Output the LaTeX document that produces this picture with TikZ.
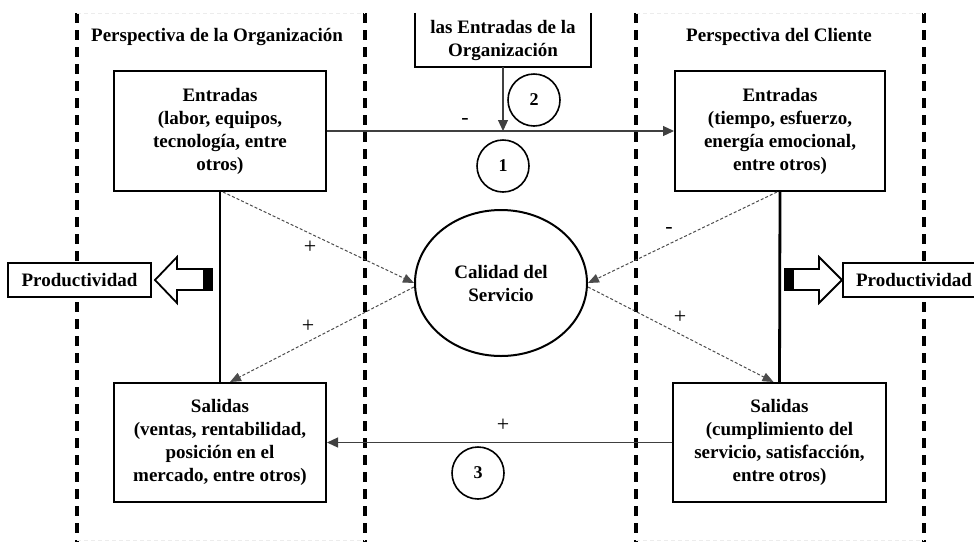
\documentclass[tikz,border=0pt]{standalone}
\usepackage{fontspec}
\setmainfont{Liberation Serif}
\usetikzlibrary{arrows.meta,shapes.geometric,calc}
\begin{document}
\begin{tikzpicture}[x=1pt,y=-1pt,
  box/.style={draw,line width=2pt,fill=white,align=center,font=\fontsize{19}{23}\selectfont\bfseries,inner sep=0pt},
  divline/.style={line width=3.5pt,dash pattern=on 10pt off 7pt},
  faint/.style={draw=gray!15,line width=0.8pt,dash pattern=on 4pt off 3pt},
  flow/.style={line width=1.2pt,draw=black!75,-{Triangle[length=11pt,width=10pt]}},
  infl/.style={line width=1pt,draw=black!70,dash pattern=on 3pt off 2pt,-{Triangle[length=11pt,width=9pt]}},
  num/.style={circle,draw,line width=1.6pt,minimum size=52pt,inner sep=0pt,font=\fontsize{18}{20}\selectfont\bfseries},
  sign/.style={font=\fontsize{22}{24}\selectfont,inner sep=0pt},
  title/.style={font=\fontsize{19}{23}\selectfont\bfseries,inner sep=0pt},
  prod/.style={draw,line width=2pt,fill=white,minimum width=143pt,minimum height=34pt,inner sep=0pt,font=\fontsize{19}{23}\selectfont\bfseries},
  hollow/.style={draw,line width=1.8pt,fill=white,line join=miter}
]
\useasboundingbox (0,0) rectangle (974,542);

% perspective dividers
\foreach \x in {77,365,636,924} \draw[divline] (\x,13) -- (\x,542);
\draw[faint] (77,13) -- (365,13);
\draw[faint] (636,13) -- (924,13);
\draw[faint] (77,540) -- (365,540);
\draw[faint] (636,540) -- (924,540);

% titles
\node[title] (tL) at (217,37) {Perspectiva de la Organización};
\node[title] (tR) at (779,37) {Perspectiva del Cliente};

% boxes
\node[box,minimum width=212pt,minimum height=120pt] (eL) at (220,131) {Entradas\\(labor, equipos,\\tecnología, entre\\otros)};
\node[box,minimum width=210pt,minimum height=120pt] (eR) at (780,131) {Entradas\\(tiempo, esfuerzo,\\energía emocional,\\entre otros)};
\node[box,minimum width=212pt,minimum height=119pt] (sL) at (220,442.5) {Salidas\\(ventas, rentabilidad,\\posición en el\\mercado, entre otros)};
\node[box,minimum width=213pt,minimum height=119pt] (sR) at (779.5,442.5) {Salidas\\(cumplimiento del\\servicio, satisfacción,\\entre otros)};

\node[ellipse,draw,line width=2pt,fill=white,minimum width=172pt,minimum height=146pt,inner sep=0pt,align=center,font=\fontsize{19}{23}\selectfont\bfseries] (cal) at (501,283) {Calidad del\\Servicio};

% top (cut) box
\node[inner sep=0pt,minimum width=176pt,minimum height=54pt,align=center,font=\fontsize{19}{23}\selectfont\bfseries] (top) at (503,40) {las Entradas de la\\Organización};
\draw[line width=1.8pt] (top.north west) -- (top.south west) -- (top.south east) -- (top.north east);

% thick verticals
\draw[line width=2.8pt] (eL.south) -- (sL.north);
\draw[line width=2.8pt] (eR.south) -- (sR.north);

% flows
\draw[flow] (eL.east) -- (eR.west);
\draw[flow] (sR.west) -- (sL.east);
\draw[flow] (top.south) -- (top.south |- eL.east);

% influences
\draw[infl] ([xshift=3pt]eL.south) -- (cal.west);
\draw[infl] ([yshift=-4pt]cal.west) -- ([xshift=10pt]sL.north);
\draw[infl] ([xshift=-3pt]eR.south) -- (cal.east);
\draw[infl] ([yshift=-4pt]cal.east) -- ([xshift=-6pt]sR.north);

% signs
\node[sign] (m1) at (465,121) {-};
\node[sign] (p1) at (310,247) {+};
\node[sign] (p2) at (308,326) {+};
\node[sign] (m2) at (669,230) {-};
\node[sign] (p3) at (680,317) {+};
\node[sign] (p4) at (503,425) {+};

% numbered circles
\node[num] (c1) at (503,166) {1};
\node[num] (c2) at (534,100) {2};
\node[num] (c3) at (478,473) {3};

% productividad
\node[prod] (pL) at (79.5,280) {Productividad};
\node[prod] (pR) at (914,280) {Productividad};
\draw[hollow] (155,280) -- (177,257) -- (177,269) -- (204,269) -- (204,290) -- (177,290) -- (177,303) -- cycle;
\fill (204,268) rectangle (213,291);
\draw[hollow] (842,280) -- (819,257) -- (819,269) -- (793,269) -- (793,290) -- (819,290) -- (819,303) -- cycle;
\fill (784,268) rectangle (793,291);
\end{tikzpicture}
\end{document}
